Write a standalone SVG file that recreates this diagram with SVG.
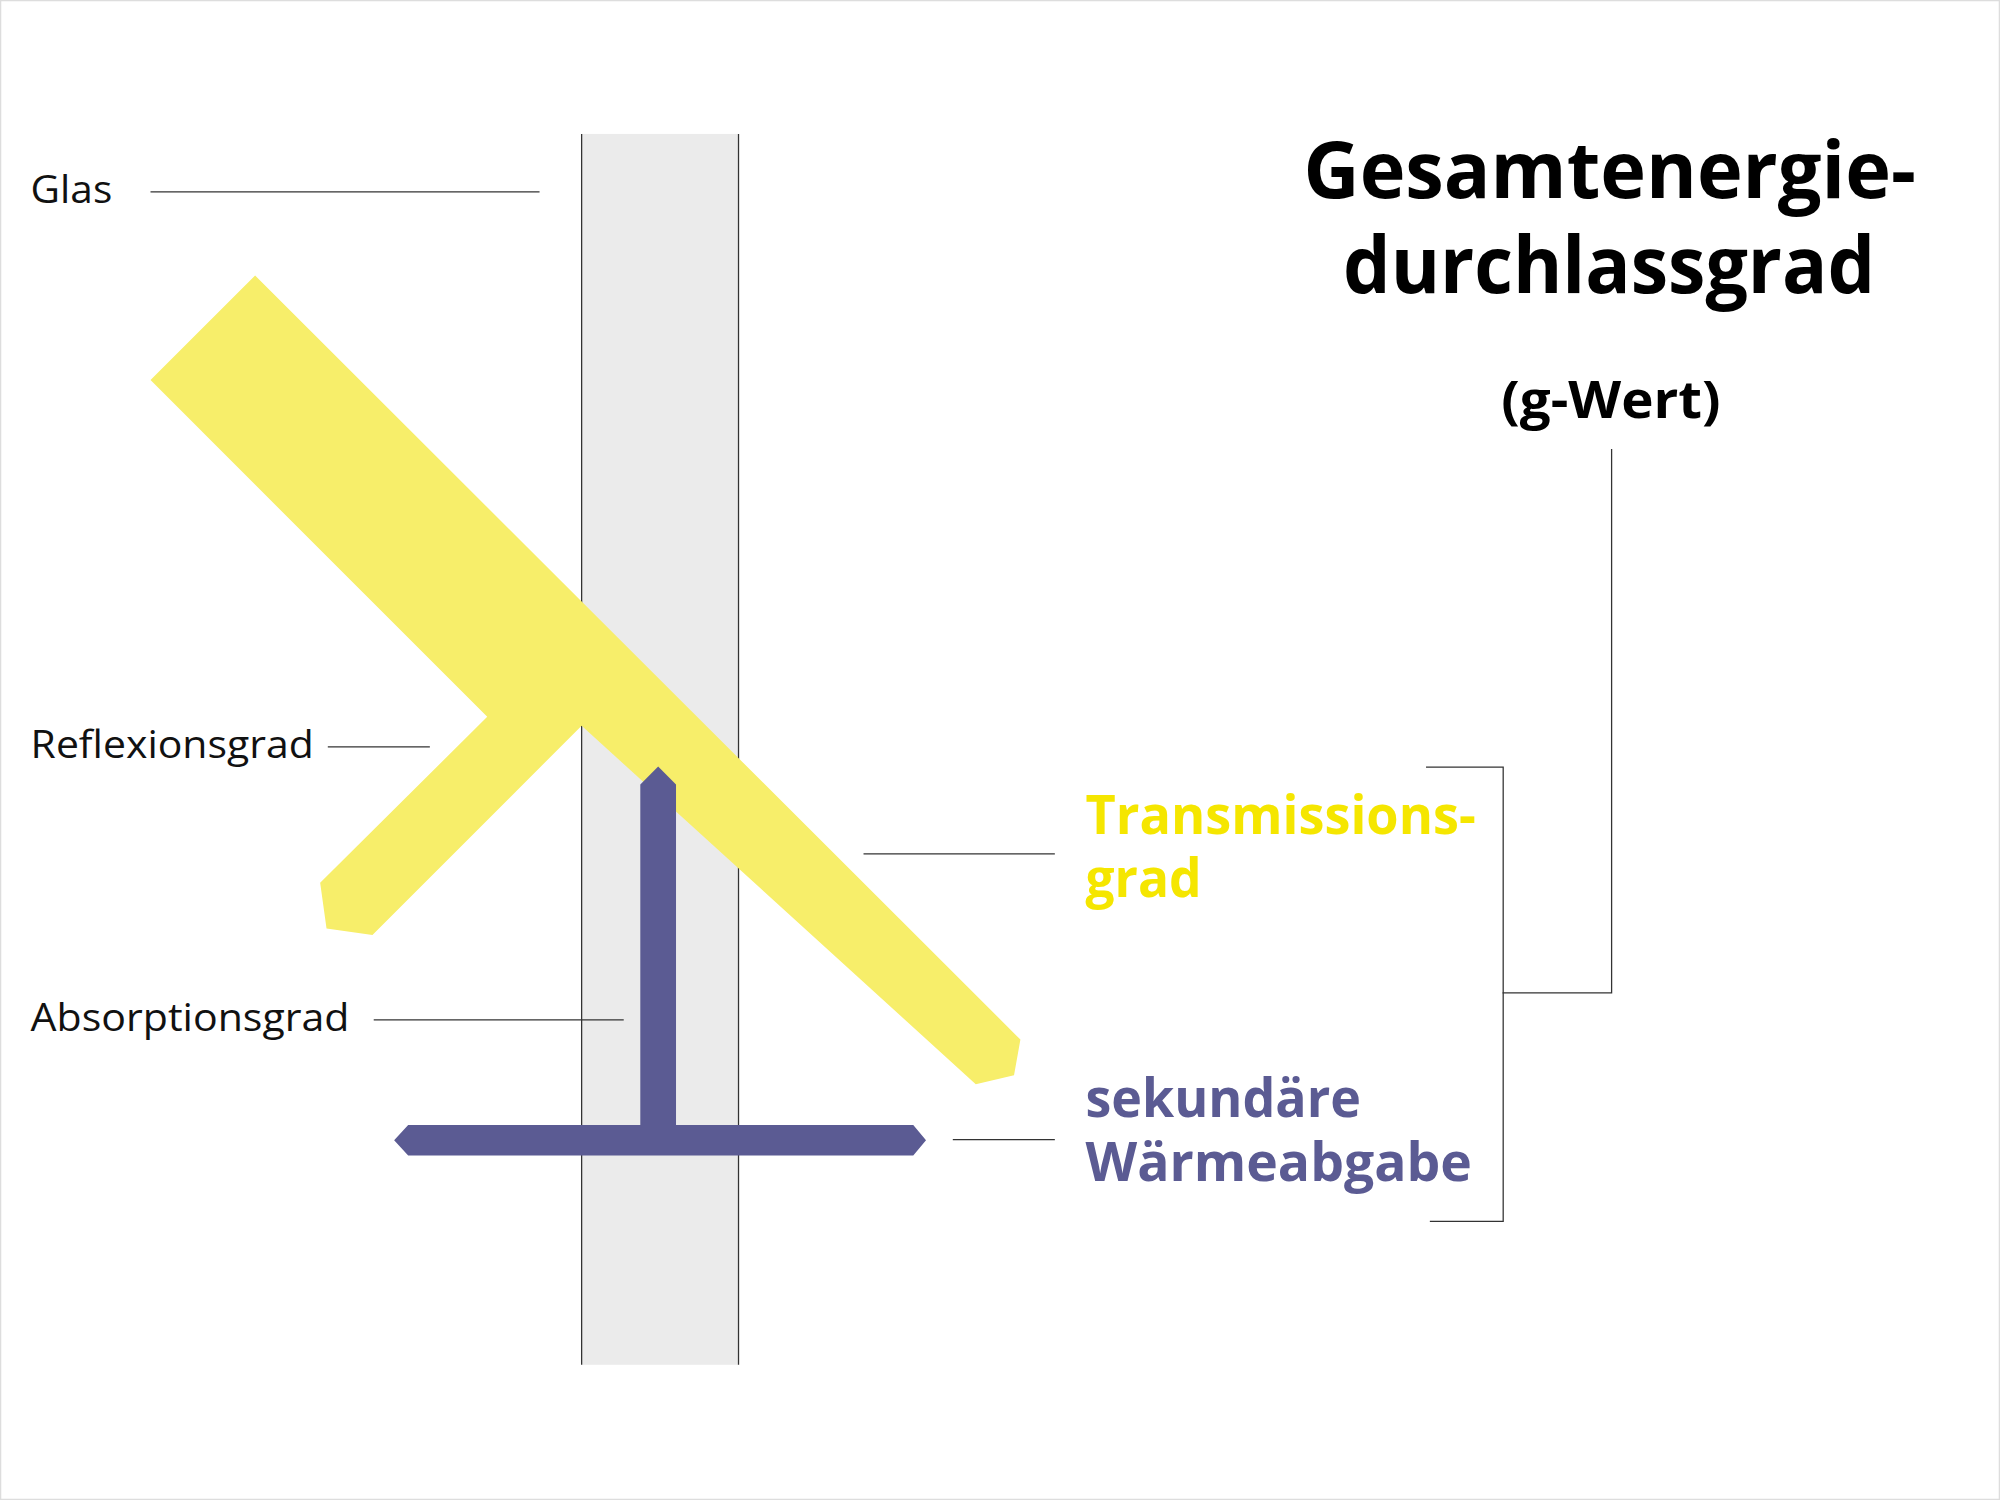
<svg xmlns="http://www.w3.org/2000/svg" width="2000" height="1500" viewBox="0 0 2000 1500">
<style>
.l{stroke:#333;stroke-width:1;fill:none}
.t{font-family:"Open Sans","Liberation Sans",sans-serif;font-size:30px;fill:#111}
.b{font-family:"Open Sans","Liberation Sans",sans-serif;font-weight:bold}
</style>
<rect width="2000" height="1500" fill="#fff"/>
<g transform="scale(1.27551)">
<rect x="0.5" y="0.5" width="1567" height="1175" fill="none" stroke="#ddd"/>
<g id="glas"><rect x="456" y="105" width="123" height="965" fill="#ebebeb"/>
<line class="l" x1="456" y1="105" x2="456" y2="1070"/><line class="l" x1="579" y1="105" x2="579" y2="1070"/></g>
<g id="licht"><polygon fill="#f7ee6a" points="456,569 765,850 795,843 800,815 200,216 118,298 382,562 251,692 256,728 292,733"/></g>
<g id="waerme"><polygon fill="#5b5b93" points="502,615 516,601 530,615 530,882 716,882 726,894 716,906 320,906 309,894 320,882 502,882"/></g>
<g id="connectors">
<line class="l" x1="118" y1="150.5" x2="423" y2="150.5"/>
<line class="l" x1="257" y1="585.5" x2="337" y2="585.5"/>
<line class="l" x1="293" y1="799.5" x2="489" y2="799.5"/>
<line class="l" x1="677" y1="669.5" x2="827" y2="669.5"/>
<line class="l" x1="747" y1="893.5" x2="827" y2="893.5"/>
<polyline class="l" points="1118,601.5 1178.5,601.5 1178.5,957.5 1121,957.5"/>
<polyline class="l" points="1178,778.5 1263.5,778.5 1263.5,352"/>
</g>
<g id="labels">
<text class="t" x="24" y="159" textLength="64" lengthAdjust="spacingAndGlyphs">Glas</text>
<text class="t" x="24" y="594" textLength="222" lengthAdjust="spacingAndGlyphs">Reflexionsgrad</text>
<text class="t" x="24" y="808" textLength="250" lengthAdjust="spacingAndGlyphs">Absorptionsgrad</text>
<text class="b" x="851" y="654" font-size="42" fill="#f5e600" textLength="306" lengthAdjust="spacingAndGlyphs">Transmissions-</text>
<text class="b" x="851" y="703" font-size="42" fill="#f5e600" textLength="91" lengthAdjust="spacingAndGlyphs">grad</text>
<text class="b" x="851" y="876" font-size="42" fill="#5b5b93" textLength="216" lengthAdjust="spacingAndGlyphs">sekundäre</text>
<text class="b" x="851" y="926" font-size="42" fill="#5b5b93" textLength="303" lengthAdjust="spacingAndGlyphs">Wärmeabgabe</text>
<text class="b" x="1022" y="155" font-size="62" fill="#000" textLength="480" lengthAdjust="spacingAndGlyphs">Gesamtenergie-</text>
<text class="b" x="1053" y="230" font-size="62" fill="#000" textLength="417" lengthAdjust="spacingAndGlyphs">durchlassgrad</text>
<text class="b" x="1177" y="328" font-size="40" fill="#000" textLength="172" lengthAdjust="spacingAndGlyphs">(g-Wert)</text>
</g>
</g>
</svg>
